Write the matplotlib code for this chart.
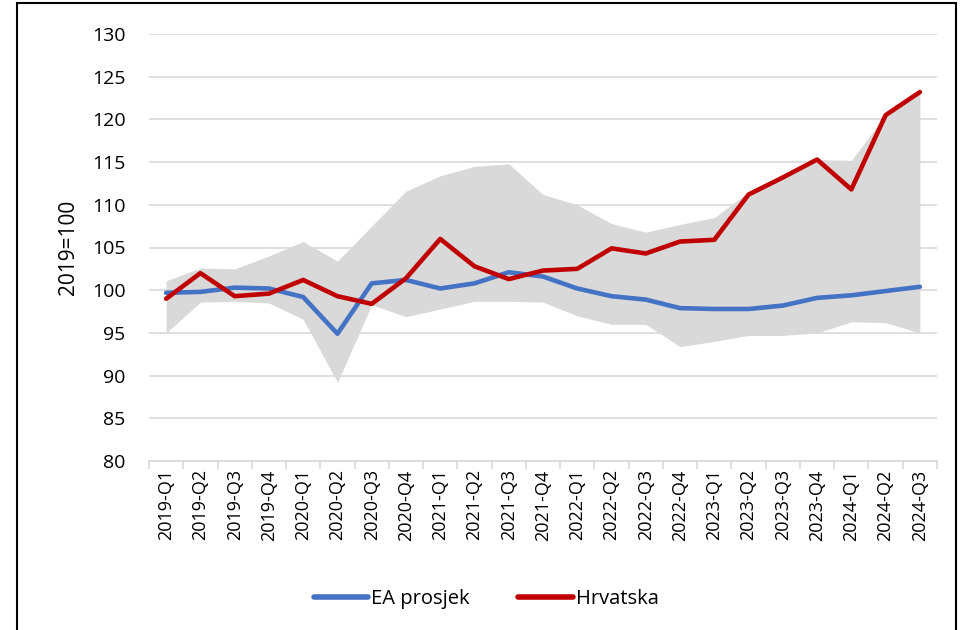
import numpy as np
import matplotlib
matplotlib.use("Agg")
import matplotlib.pyplot as plt
from matplotlib.patches import Rectangle

plt.rcParams['font.family'] = ['Open Sans', 'DejaVu Sans']

# kvartali
kvartali = ['2019-Q1', '2019-Q2', '2019-Q3', '2019-Q4',
            '2020-Q1', '2020-Q2', '2020-Q3', '2020-Q4',
            '2021-Q1', '2021-Q2', '2021-Q3', '2021-Q4',
            '2022-Q1', '2022-Q2', '2022-Q3', '2022-Q4',
            '2023-Q1', '2023-Q2', '2023-Q3', '2023-Q4',
            '2024-Q1', '2024-Q2', '2024-Q3']

# EA prosjek
ea_prosjek = [99.7, 99.8, 100.3, 100.2, 99.2, 94.9, 100.8, 101.2,
              100.2, 100.8, 102.1, 101.6, 100.2, 99.3, 98.9, 97.9,
              97.8, 97.8, 98.2, 99.1, 99.4, 99.9, 100.4]

# Hrvatska
hrvatska = [99.0, 102.0, 99.3, 99.6, 101.2, 99.3, 98.4, 101.4,
            106.0, 102.8, 101.3, 102.3, 102.5, 104.9, 104.3, 105.7,
            105.9, 111.2, 113.2, 115.3, 111.8, 120.5, 123.2]

# raspon (min - max)
raspon_min = [95.0, 98.6, 98.7, 98.5, 96.6, 89.2, 98.3, 96.9,
              97.8, 98.7, 98.7, 98.6, 97.0, 96.0, 96.0, 93.4,
              94.0, 94.7, 94.7, 95.0, 96.3, 96.2, 95.0]
raspon_max = [101.1, 102.6, 102.5, 104.0, 105.7, 103.4, 107.5, 111.6,
              113.4, 114.5, 114.8, 111.2, 110.0, 107.8, 106.8, 107.7,
              108.5, 111.5, 113.5, 115.3, 115.2, 120.5, 123.2]

x = np.arange(len(kvartali))

fig = plt.figure(figsize=(9.63, 6.3), dpi=100)
ax = fig.add_axes([149/963, 1 - 461/630, 788/963, 427/630])

ax.fill_between(x, raspon_min, raspon_max, color='#D9D9D9', linewidth=0, zorder=1)
ax.plot(x, ea_prosjek, color='#4472C4', lw=3.3, solid_capstyle='round',
        solid_joinstyle='round', label='EA prosjek', zorder=3)
ax.plot(x, hrvatska, color='#C00000', lw=3.3, solid_capstyle='round',
        solid_joinstyle='round', label='Hrvatska', zorder=4)

ax.set_ylim(80, 130)
ax.set_yticks(np.arange(80, 131, 5))
ax.set_xlim(-0.5, len(kvartali) - 0.5)
ax.set_xticks(x)
ax.set_xticklabels(kvartali, rotation=90, fontsize=13)
ax.set_xticks(np.arange(-0.5, len(kvartali), 1), minor=True)
ax.tick_params(axis='x', which='major', length=0, pad=6)
ax.tick_params(axis='x', which='minor', length=6, color='#D9D9D9', width=1.2)
ax.tick_params(axis='y', length=0, labelsize=14, pad=17)

ax.grid(axis='y', color='#D9D9D9', lw=1.2, zorder=0)
ax.set_axisbelow(True)
for s in ['top', 'right', 'left']:
    ax.spines[s].set_visible(False)
ax.spines['bottom'].set_color('#D9D9D9')
ax.spines['bottom'].set_linewidth(1.2)

ax.set_ylabel('2019=100', fontsize=15, labelpad=9)

leg = fig.legend(loc='center', bbox_to_anchor=(0.505, 1 - 599/630), ncol=2,
                 frameon=False, fontsize=14.5, handlelength=2.7,
                 handletextpad=0.15, columnspacing=2.4)
for h in leg.legend_handles:
    h.set_linewidth(4)

# okvir oko slike
fig.patches.append(Rectangle((17/963, -0.05), (956 - 17)/963, 1.05 - 3/630,
                             transform=fig.transFigure, fill=False,
                             edgecolor='black', lw=1.5))

fig.savefig('out.png', dpi=100)
